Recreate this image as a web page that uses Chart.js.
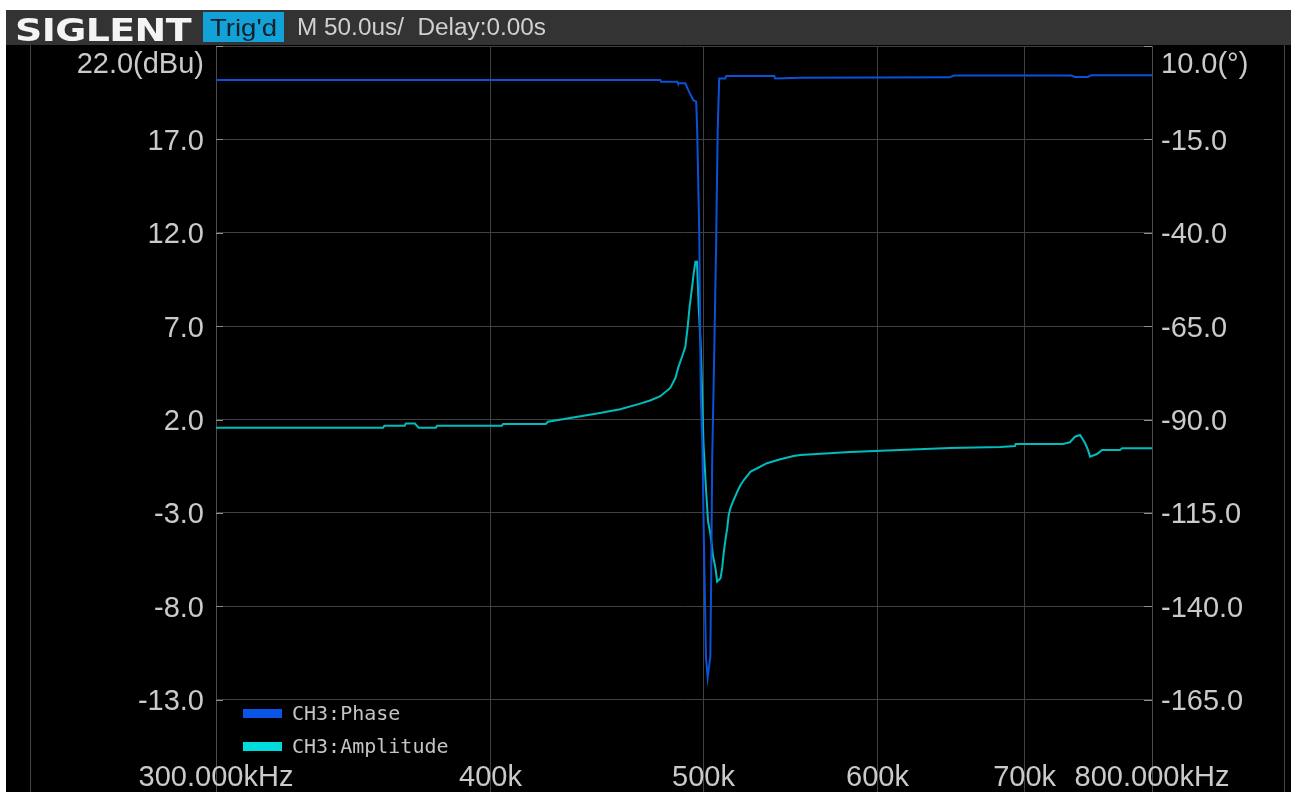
<!DOCTYPE html>
<html>
<head>
<meta charset="utf-8">
<title>SIGLENT Bode plot</title>
<script src="https://cdn.jsdelivr.net/npm/chart.js@4.4.0/dist/chart.umd.min.js"></script>
<style>
  html, body { margin: 0; padding: 0; background: #ffffff; overflow: hidden; width: 1291px; height: 792px; }
  #plot { position: absolute; left: 0; top: 0; }
  #bar { position: absolute; left: 6px; top: 10px; width: 1285px; height: 35px; background: #333333; }
  .hdr { position: absolute; display: inline-block; white-space: pre; transform-origin: 0 0; line-height: 1; }
  #logo { left: 9px; top: 4px; font-family: "DejaVu Sans", sans-serif; font-weight: bold; font-size: 32px; color: #f4f4f4; letter-spacing: -0.5px; }
  #trigBox { position: absolute; left: 197px; top: 2px; width: 81px; height: 30px; background: #12a2d8; }
  #trig { left: 204px; top: 6px; font-family: "Liberation Sans", Arial, sans-serif; font-size: 24px; color: #14202c; }
  #timebase { left: 291px; top: 6px; font-family: "Liberation Sans", Arial, sans-serif; font-size: 23px; color: #d0d0d0; }
</style>
</head>
<body>
<canvas id="plot" width="1291" height="800" style="width:1291px;height:800px"></canvas>
<div id="bar">
  <span class="hdr" id="logo">SIGLENT</span>
  <div id="trigBox"></div>
  <span class="hdr" id="trig">Trig'd</span>
  <span class="hdr" id="timebase">M 50.0us/  Delay:0.00s</span>
</div>
<script>
// ---- sweep data (frequency in kHz) ----
const phaseFreqKHz = [300, 477.9, 478.3, 486.4, 486.8, 490.6, 492.1, 494.7, 496.2, 496.7, 497.8, 498.6, 499.4,
  500.3, 501.3, 502.2, 503.6, 504.1, 504.6, 505.7, 506.7, 507.5, 508.3, 511.5, 512.1, 538.5, 539.0, 553.4,
  647.0, 650.0, 735.0, 738.0, 748.0, 751.0, 800];
const phaseDeg = [0.9, 0.9, 0.4, 0.4, 0.0, 0.0, -1.8, -4.5, -4.9, -12.2, -40.1, -84.0, -96.3,
  -124.9, -153.5, -159.1, -153.5, -130.3, -100.3, -71.4, -42.0, -12.5, 1.3, 1.3, 2.0, 2.0, 1.3, 1.5,
  1.6, 2.1, 2.1, 1.7, 1.7, 2.2, 2.2];

const ampFreqKHz = [300, 357.4, 357.9, 365.6, 366.0, 369.5, 371.0, 377.7, 378.2, 404.8, 405.3, 423.8, 424.8,
  448.6, 458.2, 467.9, 472.8, 477.9, 482.9, 485.5, 487.1, 488.9, 490.6, 491.8, 492.8, 494.1, 494.9, 495.8, 496.6,
  497.5, 498.7, 499.4, 500.0, 501.3, 502.4, 503.6, 505.1, 506.3, 507.2, 509.0, 509.9, 510.7, 511.5,
  512.6, 513.4, 514.3, 515.3, 518.0, 519.8, 521.6, 525.3, 529.0, 534.4, 541.9, 549.5, 553.4, 583.0,
  614.3, 647.4, 682.5, 693.0, 693.5, 728.8, 734.1, 738.0, 741.9, 745.8, 748.1, 749.7, 755.2, 759.2,
  773.6, 775.3, 800];
const ampDBu = [1.56, 1.56, 1.67, 1.67, 1.78, 1.78, 1.56, 1.56, 1.67, 1.67, 1.76, 1.76, 1.88,
  2.35, 2.55, 2.85, 3.02, 3.25, 3.69, 4.22, 4.83, 5.36, 5.90, 6.97, 8.04, 9.11, 9.83, 10.45, 10.45,
  8.04, 5.63, 3.04, 0.74, -1.67, -3.47, -4.08, -5.34, -5.95, -6.68, -6.50, -5.95, -5.16, -4.54,
  -3.82, -3.11, -2.75, -2.49, -1.87, -1.51, -1.24, -0.79, -0.61, -0.34, -0.13, 0.05, 0.10, 0.26,
  0.37, 0.47, 0.53, 0.58, 0.69, 0.69, 0.78, 1.08, 1.17, 0.74, 0.37, 0.01, 0.15, 0.37,
  0.37, 0.46, 0.46];

// ---- axis ticks ----
const freqTicks = [300, 400, 500, 600, 700, 800];
const freqTickLabels = ['300.000kHz', '400k', '500k', '600k', '700k', '800.000kHz'];
const dbuTicks = [22, 17, 12, 7, 2, -3, -8, -13, -18];
const dbuTickLabels = ['22.0(dBu)', '17.0', '12.0', '7.0', '2.0', '-3.0', '-8.0', '-13.0', ''];
const degTicks = [10, -15, -40, -65, -90, -115, -140, -165, -190];
const degTickLabels = ['10.0(°)', '-15.0', '-40.0', '-65.0', '-90.0', '-115.0', '-140.0', '-165.0', ''];

const seriesNames = ['CH3:Phase', 'CH3:Amplitude'];
const lineColors = ['#0b52d8', '#00bcbc'];
const swatchColors = ['#0a55e6', '#00dcdc'];

const GRID = '#414141';
const AXIS = '#4c4c4c';
const LABEL = '#cacaca';

const toPoints = (xs, ys) => xs.map((x, i) => ({ x: x, y: ys[i] }));

// Scope screen: background, frame, tick labels, edge ticks and legend
const screenPlugin = {
  id: 'screen',
  beforeDraw(chart) {
    const c = chart.ctx;
    c.save();
    c.fillStyle = '#ffffff';
    c.fillRect(0, 0, chart.width, chart.height);
    c.fillStyle = '#000000';
    c.fillRect(6, 45, chart.width - 6, chart.height - 45);
    c.restore();
  },
  afterDraw(chart) {
    const c = chart.ctx;
    const a = chart.chartArea;
    const sx = chart.scales.x, sy = chart.scales.y, sy2 = chart.scales.y2;
    c.save();
    // outer frame lines
    c.strokeStyle = '#454545';
    c.lineWidth = 1;
    c.beginPath();
    c.moveTo(30.5, 45); c.lineTo(30.5, chart.height);
    c.moveTo(1284.5, 45); c.lineTo(1284.5, chart.height);
    c.stroke();

    // short inner ticks at both vertical axes
    c.strokeStyle = '#8e8e8e';
    c.beginPath();
    dbuTicks.forEach(v => {
      const y = Math.round(sy.getPixelForValue(v)) + 0.5;
      c.moveTo(a.left, y); c.lineTo(a.left + 7, y);
      c.moveTo(a.right - 8, y); c.lineTo(a.right, y);
    });
    c.stroke();

    c.fillStyle = LABEL;
    c.font = '29px "Liberation Sans", Arial, sans-serif';
    c.textBaseline = 'alphabetic';
    // left axis (dBu)
    c.textAlign = 'right';
    dbuTicks.forEach((v, i) => {
      if (!dbuTickLabels[i]) return;
      const y = i === 0 ? 73 : sy.getPixelForValue(v) + 10.5;
      c.fillText(dbuTickLabels[i], 204, y);
    });
    // right axis (degrees)
    c.textAlign = 'left';
    degTicks.forEach((v, i) => {
      if (!degTickLabels[i]) return;
      const y = i === 0 ? 73 : sy2.getPixelForValue(v) + 10.5;
      c.fillText(degTickLabels[i], 1161, y);
    });
    // frequency axis
    c.textAlign = 'center';
    freqTicks.forEach((v, i) => {
      c.fillText(freqTickLabels[i], sx.getPixelForValue(v), 786);
    });

    // legend
    c.font = '20px "DejaVu Sans Mono", monospace';
    c.textAlign = 'left';
    const rows = [720, 753];
    seriesNames.forEach((name, i) => {
      c.fillStyle = swatchColors[i];
      c.fillRect(243, rows[i] - 11, 39, 9);
      c.fillStyle = '#c4c4c4';
      c.fillText(name, 292, rows[i]);
    });
    c.restore();
  }
};

const setTicks = list => scale => { scale.ticks = list.map(v => ({ value: v })); };

new Chart(document.getElementById('plot'), {
  type: 'line',
  data: {
    datasets: [
      {
        label: seriesNames[0], data: toPoints(phaseFreqKHz, phaseDeg), yAxisID: 'y2',
        borderColor: lineColors[0], borderWidth: 2, pointRadius: 0, tension: 0, fill: false
      },
      {
        label: seriesNames[1], data: toPoints(ampFreqKHz, ampDBu), yAxisID: 'y',
        borderColor: lineColors[1], borderWidth: 2, pointRadius: 0, tension: 0, fill: false
      }
    ]
  },
  options: {
    responsive: false,
    animation: false,
    devicePixelRatio: 1,
    layout: { padding: { left: 216, right: 139, top: 46, bottom: 7 } },
    plugins: { legend: { display: false }, tooltip: { enabled: false } },
    scales: {
      x: {
        type: 'logarithmic', min: 300, max: 800,
        afterBuildTicks: setTicks(freqTicks),
        afterFit: s => { s.height = 0; },
        ticks: { display: false },
        grid: { color: GRID, lineWidth: 1, drawTicks: false },
        border: { display: false }
      },
      y: {
        position: 'left', min: -18, max: 22,
        afterBuildTicks: setTicks(dbuTicks),
        afterFit: s => { s.width = 0; },
        ticks: { display: false },
        grid: { color: GRID, lineWidth: 1, drawTicks: false },
        border: { display: true, color: AXIS }
      },
      y2: {
        position: 'right', min: -190, max: 10,
        afterBuildTicks: setTicks(degTicks),
        afterFit: s => { s.width = 0; },
        ticks: { display: false },
        grid: { display: false, drawTicks: false },
        border: { display: true, color: AXIS }
      }
    }
  },
  plugins: [screenPlugin]
});

// stretch header texts to their instrument widths
function fitWidth(id, target) {
  const el = document.getElementById(id);
  const w = el.getBoundingClientRect().width;
  if (w > 0) el.style.transform = 'scaleX(' + (target / w) + ')';
}
fitWidth('logo', 176);
fitWidth('trig', 67);
fitWidth('timebase', 249);
</script>
</body>
</html>
